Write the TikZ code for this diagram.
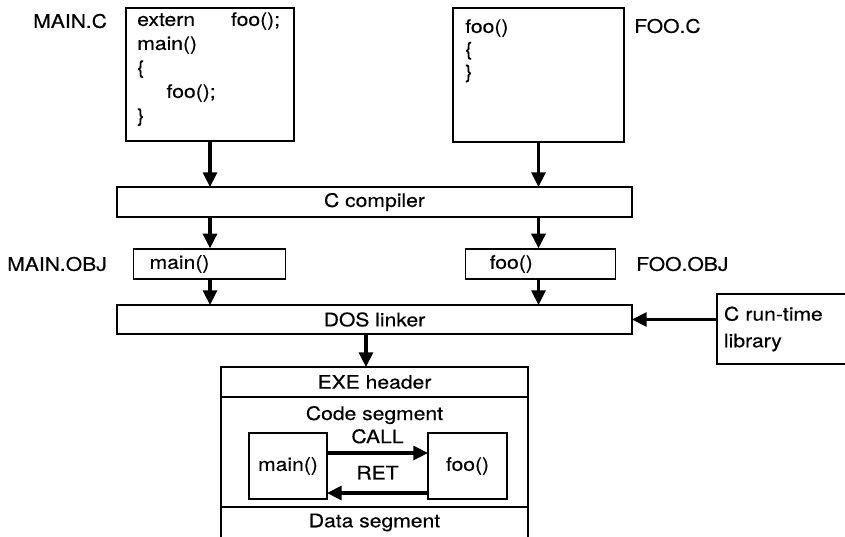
\documentclass[tikz,border=0pt]{standalone}
\usepackage{fontspec}
\setmainfont{TeX Gyre Heros}[FakeStretch=1.13,FakeBold=0.35]
\usetikzlibrary{arrows.meta,positioning}

\def\pxl{0.75pt}
\tikzset{
  box/.style 2 args={draw,line width=1pt,minimum width=#1*\pxl,
    minimum height=#2*\pxl,inner sep=0pt,outer sep=0pt},
  objbox/.style 2 args={draw,line width=1pt,anchor=west,align=left,
    minimum height=30*\pxl,inner ysep=0pt,inner xsep=#1*\pxl,text width=#2*\pxl},
  flow/.style={line width=2.3pt,-{Triangle[length=11pt,width=10.5pt]}},
  lbl/.style={inner sep=0pt,anchor=west},
  code/.style={inner sep=0pt,anchor=north west,align=left}
}

\begin{document}
\begin{tikzpicture}[x=0.75pt,y=-0.75pt,font=\fontsize{14}{18}\selectfont]
  \useasboundingbox (0,0) rectangle (845,536);

  % source files
  \node[box={168}{133}] (mainc) at (210,74.5) {};
  \node[code] (maincode) at (137,12)
    {extern\hspace{27pt}foo();\\main()\\\{\\\hspace*{22pt}foo();\\\}};
  \node[lbl] (maincname) at (33,21) {MAIN.C};
  \node[box={171}{134}] (fooc) at (538.5,75) {};
  \node[code] (foocode) at (465,19) {foo()\\[-1pt]\{\\[-1pt]\}};
  \node[lbl] (foocname) at (634,26) {FOO.C};

  \node[box={515}{30}] (compiler) at (374.5,202) {C compiler};

  \node[objbox={16}{120}] (mainobj) at (133,264) {main()};
  \node[lbl] (mainobjname) at (7,264) {MAIN.OBJ};
  \node[objbox={24}{102}] (fooobj) at (465,264) {foo()};
  \node[lbl] (fooobjname) at (636,264) {FOO.OBJ};

  \node[box={515}{29}] (linker) at (374.5,319.5) {DOS linker};
  \node[box={135}{70},anchor=west,align=left,text width=121*\pxl,
        inner xsep=7*\pxl] (library) at (717,329) {C run-time\\[2pt]library};

  % executable image
  \node[box={307}{30}] (exehdr) at (374.5,382) {EXE header};
  \node[box={307}{110},below=0pt of exehdr] (codeseg) {};
  \node[inner sep=0pt,anchor=base] (codename) at (374.5,420) {Code segment};
  \node[box={307}{31},below=0pt of codeseg] (dataseg) {Data segment};
  \node[box={78}{66}] (mainfn) at (288,466) {main()};
  \node[box={79}{66}] (foofn) at (467.5,466) {foo()};

  \draw[flow] (mainc.south) -- (mainc.south |- compiler.north);
  \draw[flow] (fooc.south) -- (fooc.south |- compiler.north);
  \draw[flow] (mainc.south |- compiler.south) -- (mainc.south |- mainobj.north);
  \draw[flow] (fooc.south |- compiler.south) -- (fooc.south |- fooobj.north);
  \draw[flow] (mainc.south |- mainobj.south) -- (mainc.south |- linker.north);
  \draw[flow] (fooc.south |- fooobj.south) -- (fooc.south |- linker.north);
  \draw[flow] (library.west |- linker.east) -- (linker.east);
  \draw[flow] ([xshift=-6.4pt]linker.south) -- ([xshift=-6.4pt]exehdr.north);
  \draw[flow] ([yshift=9.75pt]mainfn.east) -- ([yshift=9.75pt]foofn.west)
    node[midway,above=6pt,inner sep=0pt] {CALL};
  \draw[flow] ([yshift=-20.25pt]foofn.west) -- ([yshift=-20.25pt]mainfn.east)
    node[midway,above=9pt,inner sep=0pt] {RET};
\end{tikzpicture}
\end{document}
